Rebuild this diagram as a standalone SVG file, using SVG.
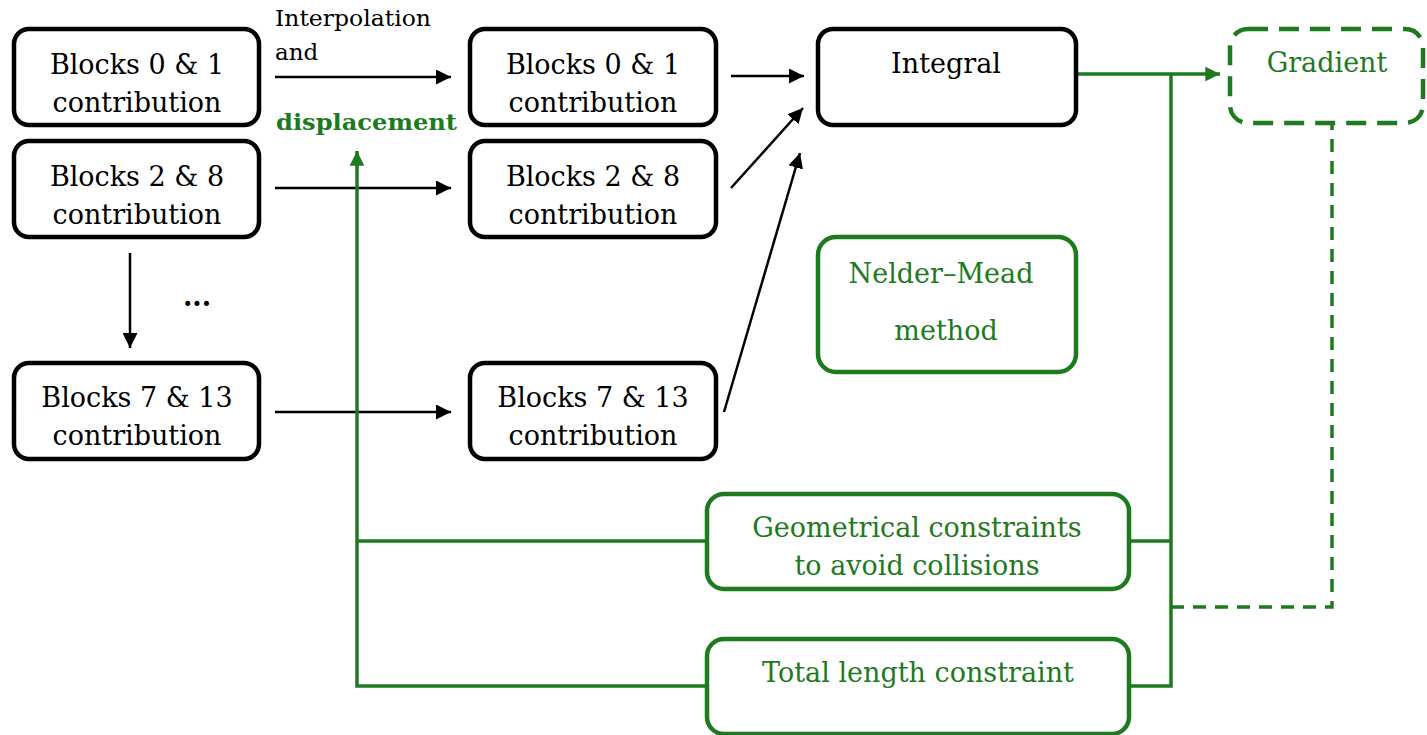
<svg xmlns="http://www.w3.org/2000/svg" width="1427" height="735" viewBox="0 0 1427 735">
<defs>
<style>
.bk{fill:#fff;stroke:#000;stroke-width:4.5}
.gr{fill:#fff;stroke:#1e7a1e;stroke-width:4.5}
.gd{fill:none;stroke:#1e7a1e;stroke-width:4.5;stroke-dasharray:20 11}
.t{font-family:"DejaVu Serif","Liberation Serif",serif;font-size:27px;fill:#000;text-anchor:middle}
.tg{fill:#1e7a1e}
.lbl{font-family:"DejaVu Serif","Liberation Serif",serif;font-size:23px;fill:#000}
.c{stroke:#000;stroke-width:2.5;fill:none}
.cg{stroke:#1e7a1e;stroke-width:3.5;fill:none}
.cgd{stroke:#1e7a1e;stroke-width:3.5;fill:none;stroke-dasharray:13 9}
</style>
<marker id="ab" viewBox="0 0 10 10" refX="10" refY="5" markerWidth="6" markerHeight="6" orient="auto" markerUnits="strokeWidth"><path d="M0,0 L10,5 L0,10 z" fill="#000"/></marker>
<marker id="ag" viewBox="0 0 10 10" refX="10" refY="5" markerWidth="4.2" markerHeight="4.2" orient="auto" markerUnits="strokeWidth"><path d="M0,0 L10,5 L0,10 z" fill="#1e7a1e"/></marker>
</defs>

<g id="connectors">
<line class="c" x1="275" y1="77" x2="451" y2="77" marker-end="url(#ab)"/>
<line class="c" x1="275" y1="188" x2="451" y2="188" marker-end="url(#ab)"/>
<line class="c" x1="275" y1="412" x2="451" y2="412" marker-end="url(#ab)"/>
<line class="c" x1="130" y1="253" x2="130" y2="348" marker-end="url(#ab)"/>
<line class="c" x1="731" y1="76" x2="804" y2="76" marker-end="url(#ab)"/>
<line class="c" x1="731" y1="188" x2="803" y2="108" marker-end="url(#ab)"/>
<line class="c" x1="724" y1="412" x2="800" y2="153" marker-end="url(#ab)"/>
<line class="cg" x1="1076" y1="74" x2="1220" y2="74" marker-end="url(#ag)"/>
<polyline class="cg" points="1171,74 1171,686 1129,686"/>
<line class="cg" x1="1129" y1="541" x2="1171" y2="541"/>
<polyline class="cg" points="707,686 357,686 357,151" marker-end="url(#ag)"/>
<line class="cg" x1="357" y1="541" x2="707" y2="541"/>
<polyline class="cgd" points="1171,607 1332,607 1332,123"/>
</g>

<g id="label-interp">
<text class="lbl" x="275" y="26" textLength="156" lengthAdjust="spacingAndGlyphs">Interpolation</text>
<text class="lbl" x="275" y="60">and</text>
<text class="lbl" x="276" y="130" font-weight="bold" style="fill:#1e7a1e" textLength="181" lengthAdjust="spacingAndGlyphs">displacement</text>
</g>
<g id="ellipsis"><text class="t" x="197" y="306" font-weight="bold">...</text></g>

<g id="a1"><rect class="bk" x="14" y="29" width="245" height="96" rx="15"/>
<text class="t" x="137" y="74">Blocks 0 &amp; 1</text><text class="t" x="137" y="112">contribution</text></g>
<g id="a2"><rect class="bk" x="14" y="141" width="245" height="96" rx="15"/>
<text class="t" x="137" y="186">Blocks 2 &amp; 8</text><text class="t" x="137" y="224">contribution</text></g>
<g id="a3"><rect class="bk" x="14" y="363" width="245" height="96" rx="15"/>
<text class="t" x="137" y="407">Blocks 7 &amp; 13</text><text class="t" x="137" y="445">contribution</text></g>

<g id="b1"><rect class="bk" x="470" y="29" width="246" height="96" rx="15"/>
<text class="t" x="593" y="74">Blocks 0 &amp; 1</text><text class="t" x="593" y="112">contribution</text></g>
<g id="b2"><rect class="bk" x="470" y="141" width="246" height="96" rx="15"/>
<text class="t" x="593" y="186">Blocks 2 &amp; 8</text><text class="t" x="593" y="224">contribution</text></g>
<g id="b3"><rect class="bk" x="470" y="363" width="246" height="96" rx="15"/>
<text class="t" x="593" y="407">Blocks 7 &amp; 13</text><text class="t" x="593" y="445">contribution</text></g>

<g id="integral"><rect class="bk" x="818" y="29" width="258" height="96" rx="15"/>
<text class="t" x="946" y="73">Integral</text></g>

<g id="gradient"><rect class="gd" x="1230" y="29" width="193" height="94" rx="18"/>
<text class="t tg" x="1327" y="72">Gradient</text></g>

<g id="neldermead"><rect class="gr" x="818" y="237" width="258" height="135" rx="18"/>
<text class="t tg" x="941" y="283">Nelder–Mead</text><text class="t tg" x="946" y="340">method</text></g>

<g id="geometric"><rect class="gr" x="707" y="494" width="422" height="95" rx="17"/>
<text class="t tg" x="917" y="537">Geometrical constraints</text><text class="t tg" x="917" y="575">to avoid collisions</text></g>

<g id="totallength"><rect class="gr" x="707" y="639" width="422" height="95" rx="17"/>
<text class="t tg" x="918" y="682">Total length constraint</text></g>
</svg>
